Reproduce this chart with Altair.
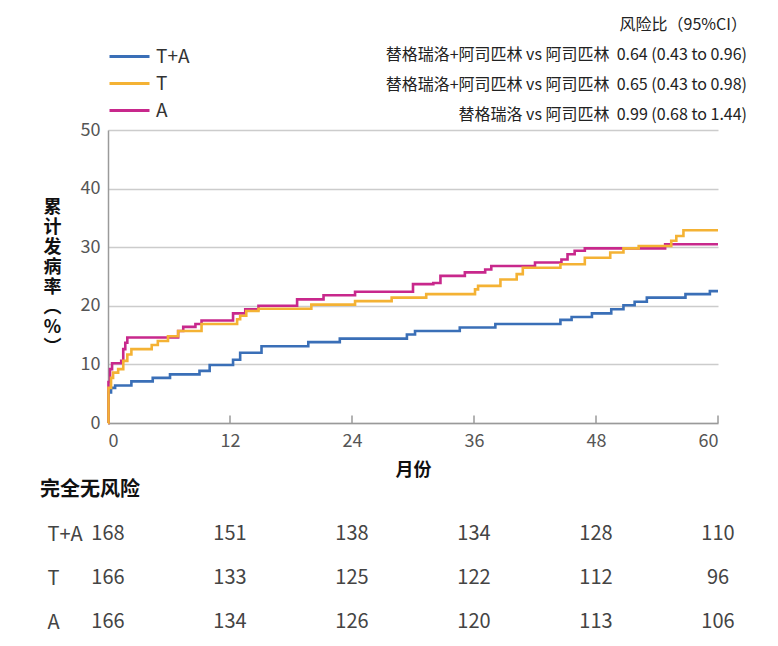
import altair as alt
import pandas as pd

# ---- data ----
ta_t = [0, 0.05, 0.3, 0.7, 2.3, 4.4, 6.1, 9.0, 10.0, 12.3, 13.0, 15.1, 19.7, 22.8, 29.4, 30.2, 34.6, 38.1,
        44.5, 45.6, 47.6, 49.5, 50.7, 51.8, 53.0, 56.8, 59.2, 60]
ta_v = [0, 5.2, 6.0, 6.4, 7.1, 7.7, 8.3, 8.9, 9.9, 10.8, 12.0, 13.1, 13.8, 14.4, 15.1, 15.7, 16.3, 16.9,
        17.6, 18.1, 18.7, 19.4, 20.1, 20.7, 21.4, 22.0, 22.5, 22.5]

t_t = [0, 0.05, 0.3, 0.5, 1.0, 1.5, 1.9, 2.3, 4.3, 4.9, 5.9, 6.9, 9.2, 12.7, 13.0, 13.6, 14.8, 20.0, 24.3,
       27.9, 31.3, 36.1, 36.4, 38.6, 40.2, 40.8, 44.5, 46.9, 49.4, 50.7, 52.2, 55.4, 55.9, 56.6, 60]
t_v = [0, 6.0, 7.7, 8.6, 9.2, 10.6, 11.7, 12.6, 13.3, 14.0, 14.8, 15.7, 16.9, 17.7, 18.3, 19.1, 19.5, 20.2, 20.8,
       21.4, 22.0, 22.8, 23.4, 24.5, 25.4, 26.5, 27.1, 28.2, 29.1, 29.8, 30.2, 31.1, 31.9, 32.9, 32.9]

a_t = [0, 0.05, 0.2, 0.4, 1.3, 1.5, 1.7, 1.9, 6.9, 7.4, 8.6, 9.2, 12.3, 13.5, 14.8, 18.6, 21.2, 24.3, 30.0,
       32.0, 32.7, 35.1, 37.1, 37.7, 42.0, 44.6, 45.2, 45.9, 46.9, 54.8, 60]
a_v = [0, 7.0, 9.2, 10.2, 10.6, 12.6, 13.7, 14.6, 15.7, 16.4, 16.9, 17.5, 18.7, 19.4, 20.0, 21.1, 21.8, 22.4, 23.7,
       23.9, 25.1, 25.7, 26.2, 26.8, 27.4, 27.9, 28.8, 29.4, 29.8, 30.5, 30.5]

groups = ["T+A", "T", "A"]
colors = ["#3a6fb7", "#f4b234", "#c8288c"]

risk_months = [0, 12, 24, 36, 48, 60]
risk_ta = [168, 151, 138, 134, 128, 110]
risk_t = [166, 133, 125, 122, 112, 96]
risk_a = [166, 134, 126, 120, 113, 106]

tick_months = [12, 24, 36, 48, 60]

NB = "\u00a0"
hr_lines = ["风险比（95%CI）",
            "替格瑞洛+阿司匹林 vs 阿司匹林" + NB + NB + "0.64 (0.43 to 0.96)",
            "替格瑞洛+阿司匹林 vs 阿司匹林" + NB + NB + "0.65 (0.43 to 0.98)",
            "替格瑞洛 vs 阿司匹林" + NB + NB + "0.99 (0.68 to 1.44)"]

FONT = "Noto Sans CJK SC"

curves = pd.concat([
    pd.DataFrame({"t": ta_t, "v": ta_v, "g": "T+A"}),
    pd.DataFrame({"t": t_t, "v": t_v, "g": "T"}),
    pd.DataFrame({"t": a_t, "v": a_v, "g": "A"}),
])

color = alt.Color("g:N", scale=alt.Scale(domain=groups, range=colors),
                  legend=alt.Legend(title=None, orient="none", legendX=10, legendY=-85,
                                    symbolType="M-2,0H2", symbolStrokeWidth=3, symbolSize=400,
                                    labelFontSize=19, labelColor="#333", labelFont=FONT,
                                    rowPadding=5, labelOffset=15))

xsc = alt.Scale(domain=[0, 60], nice=False)
ysc = alt.Scale(domain=[0, 50], nice=False)

xaxis = alt.Axis(values=risk_months, ticks=False, grid=False, domainColor="#9a9a9a", domainWidth=1.5,
                 labelFontSize=18, labelColor="#555", labelFont=FONT, labelPadding=9,
                 title="月份", titleFontSize=18, titleFont=FONT, titleFontWeight="bold",
                 titleColor="#111", titlePadding=11)
yaxis = alt.Axis(values=[0, 10, 20, 30, 40, 50], ticks=False, grid=True, gridColor="#cccccc", gridWidth=1.5,
                 domainColor="#9a9a9a", domainWidth=1.5,
                 labelFontSize=18, labelColor="#555", labelFont=FONT, labelPadding=8,
                 title=["累", "计", "发", "病", "率", "︵", "%", "︶"], titleAngle=0,
                 titleFontSize=18, titleFont=FONT, titleFontWeight="bold", titleColor="#111",
                 titleLineHeight=20, titleX=-56, titleY=68, titleBaseline="top", titleAlign="center")

layers = []
for g in ["T+A", "A", "T"]:
    layers.append(
        alt.Chart(curves).transform_filter(alt.datum.g == g).mark_line(
            interpolate="step-after", strokeWidth=2.6).encode(
            x=alt.X("t:Q", scale=xsc, axis=xaxis),
            y=alt.Y("v:Q", scale=ysc, axis=yaxis),
            color=color)
    )

ticks = alt.Chart(pd.DataFrame({"m": tick_months, "y0": 0, "y1": 1.3})).mark_rule(
    color="#9a9a9a", strokeWidth=1.5).encode(
    x=alt.X("m:Q", scale=xsc), y=alt.Y("y0:Q", scale=ysc), y2="y1:Q")

top = alt.layer(*layers, ticks).properties(
    width=610, height=293,
    title=alt.TitleParams(text=hr_lines, anchor="end", align="right", dx=29, offset=-2, frame="group",
                          fontSize=16, font=FONT, fontWeight="normal", color="#222", lineHeight=30))

risk = pd.concat([
    pd.DataFrame({"m": risk_months, "n": risk_ta, "g": "T+A"}),
    pd.DataFrame({"m": risk_months, "n": risk_t, "g": "T"}),
    pd.DataFrame({"m": risk_months, "n": risk_a, "g": "A"}),
])

bottom = alt.Chart(risk).mark_text(fontSize=20, font=FONT, color="#444", align="center", baseline="middle").encode(
    x=alt.X("m:Q", scale=xsc, axis=None),
    y=alt.Y("g:N", sort=groups, axis=alt.Axis(title=None, ticks=False, domain=False, labelAlign="left",
                                               labelPadding=61, labelFontSize=20, labelColor="#444",
                                               labelFont=FONT)),
    text="n:Q",
).properties(width=610, height=132,
             title=alt.TitleParams(text="完全无风险", anchor="start", dx=-68, offset=12, frame="group",
                                   fontSize=20, font=FONT, fontWeight="bold", color="#111"))

chart = alt.vconcat(top, bottom, spacing=89, bounds="flush").configure_view(stroke=None).properties(
    padding={"left": 40, "top": 17, "right": 5, "bottom": 5})

chart.save("out.html", embed_options={"renderer": "svg", "actions": False})
